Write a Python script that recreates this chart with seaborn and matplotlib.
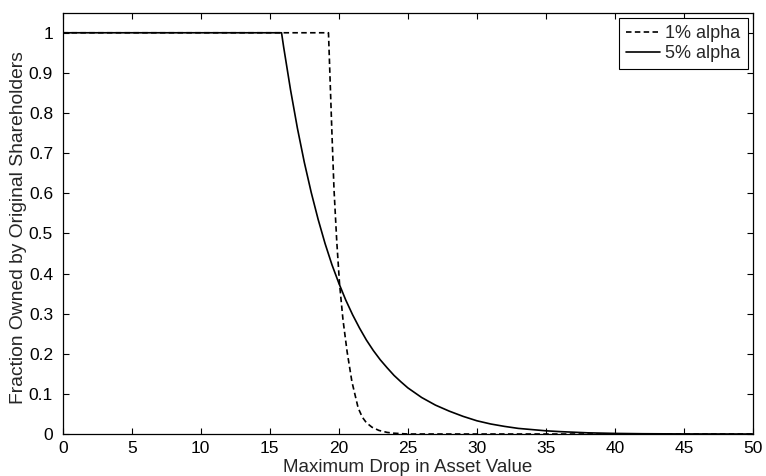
import numpy as np
import pandas as pd
import matplotlib
matplotlib.use("Agg")
import matplotlib.pyplot as plt
import seaborn as sns

# Data
x_1pct = [0, 19.25, 19.35, 19.5, 19.65, 19.85, 20.05, 20.3, 20.6, 20.95, 21.4, 21.7, 22.0,
          22.4, 22.9, 23.5, 24.0, 25.0, 50.0]
y_1pct = [1.0, 1.0, 0.90, 0.75, 0.61, 0.48, 0.375, 0.285, 0.205, 0.13, 0.065, 0.042, 0.028,
          0.017, 0.009, 0.004, 0.002, 0.0, 0.0]

x_5pct = [0, 15.85, 16.0, 16.5, 17.0, 17.5, 18.0, 18.5, 19.0, 19.5, 20.0, 20.5, 21.0, 21.5,
          22.0, 22.5, 23.0, 23.5, 24.0, 24.5, 25.0, 26.0, 27.0, 28.0, 29.0, 30.0, 31.0, 32.0,
          33.0, 34.0, 35.0, 36.0, 37.0, 38.0, 40.0, 42.0, 45.0, 50.0]
y_5pct = [1.0, 1.0, 0.965, 0.858, 0.762, 0.677, 0.602, 0.535, 0.475, 0.422, 0.376, 0.334,
          0.297, 0.264, 0.234, 0.208, 0.185, 0.165, 0.146, 0.130, 0.115, 0.091, 0.072, 0.057,
          0.044, 0.033, 0.025, 0.019, 0.014, 0.011, 0.008, 0.006, 0.0045, 0.003, 0.0015,
          0.0007, 0.0002, 0.0]

series_names = ["1% alpha", "5% alpha"]
x_ticks = list(range(0, 51, 5))
y_ticks = [0, 0.1, 0.2, 0.3, 0.4, 0.5, 0.6, 0.7, 0.8, 0.9, 1]
y_tick_labels = ["0", "0.1", "0.2", "0.3", "0.4", "0.5", "0.6", "0.7", "0.8", "0.9", "1"]
x_label = "Maximum Drop in Asset Value"
y_label = "Fraction Owned by Original Shareholders"

sns.set_style("ticks")
plt.rcParams['font.family'] = ['Liberation Sans', 'DejaVu Sans']

fig = plt.figure(figsize=(7.66, 4.76), dpi=100)
ax = fig.add_axes([0.0819, 0.0882, 0.9011, 0.8851])

df1 = pd.DataFrame({"x": x_1pct, "y": y_1pct})
df2 = pd.DataFrame({"x": x_5pct, "y": y_5pct})
sns.lineplot(data=df1, x="x", y="y", ax=ax, color="black", lw=1.2,
             linestyle=(0, (3.3, 2.0)), label=series_names[0], sort=False)
sns.lineplot(data=df2, x="x", y="y", ax=ax, color="black", lw=1.2,
             label=series_names[1], sort=False)

ax.set_xlim(0, 50)
ax.set_ylim(0, 1.05)
ax.set_xticks(x_ticks)
ax.set_yticks(y_ticks)
ax.set_yticklabels(y_tick_labels)
ax.set_xlabel(x_label, fontsize=13.5)
ax.set_ylabel(y_label, fontsize=13.9)
ax.xaxis.set_label_coords(0.5, -0.06)
ax.yaxis.set_label_coords(-0.0515, 0.49)
ax.tick_params(direction="in", length=4, width=0.8, top=True, right=True,
               labelsize=12.5, colors="black")
ax.tick_params(axis="y", pad=7)
ax.tick_params(axis="x", pad=5)
for s in ax.spines.values():
    s.set_linewidth(0.9)
    s.set_color("black")
    s.set_visible(True)

leg = ax.legend(loc="upper right", fontsize=13, frameon=True, fancybox=False,
                edgecolor="black", framealpha=1, handlelength=1.85, handletextpad=0.3,
                borderaxespad=0.3, borderpad=0.4, labelspacing=0.15)
leg.get_frame().set_linewidth(0.8)

fig.savefig("out.png", dpi=100)
